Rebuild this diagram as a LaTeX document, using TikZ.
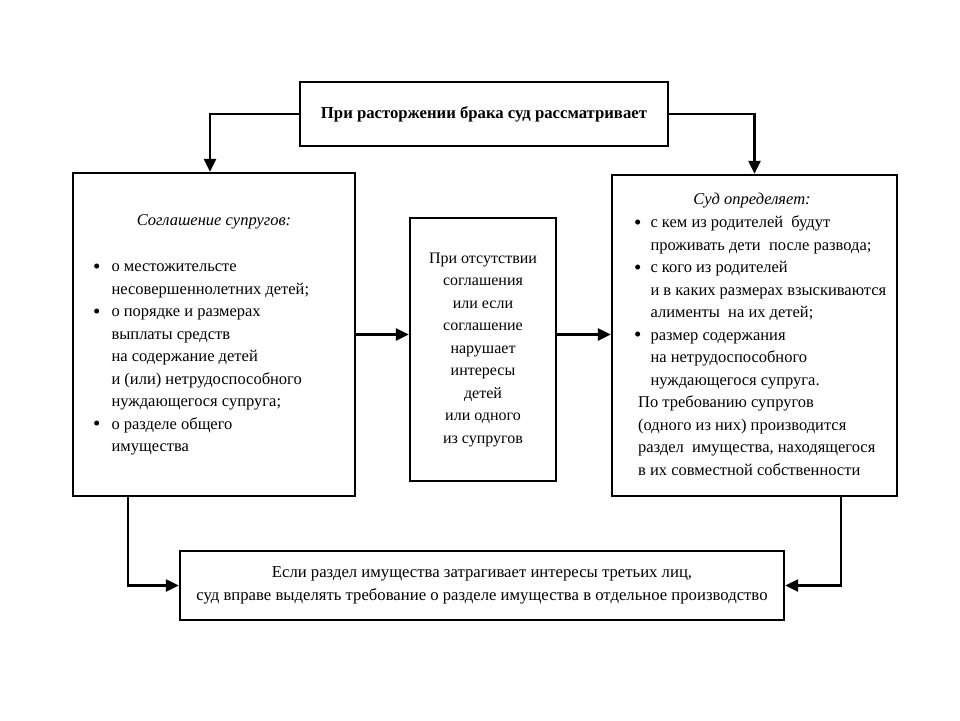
\documentclass[tikz,border=0pt]{standalone}
\usepackage{fontspec}
\setmainfont{Liberation Serif}
\usetikzlibrary{arrows.meta}
\newcommand\mybul{\raisebox{-1.5pt}{\fontsize{21}{21}\selectfont•}}
\begin{document}
\begin{tikzpicture}[x=1pt,y=-1pt,
  box/.style={draw,line width=2.4pt,inner sep=0pt,rectangle},
  txt/.style={inner sep=0pt,font=\fontsize{16.5}{22.5}\selectfont},
  conn/.style={line width=2.4pt,-{Triangle[length=13pt,width=12pt]}}]
\useasboundingbox[fill=white] (0,0) rectangle (960,720);
\node[box,minimum width=368pt,minimum height=64pt,font=\fontsize{16.7}{22.5}\selectfont\bfseries] (top) at (484,114) {При расторжении брака суд рассматривает};
\node[box,minimum width=282pt,minimum height=323pt] (lb) at (214,334.5) {};
\node[box,minimum width=146pt,minimum height=263pt,align=center,font=\fontsize{16}{22.5}\selectfont] (mb) at (483,349.5) {При отсутствии\\соглашения\\или если\\соглашение\\нарушает\\интересы\\детей\\или одного\\из супругов};
\node[box,minimum width=285pt,minimum height=321pt] (rb) at (754.5,335.5) {};
\node[box,minimum width=604pt,minimum height=69pt,align=center,font=\fontsize{16.7}{23}\selectfont] (bb) at (482,585.5) {Если раздел имущества затрагивает интересы третьих лиц,\\суд вправе выделять требование о разделе имущества в отдельное производство};
% left box text
\node[txt,font=\fontsize{16.5}{22.5}\selectfont\itshape] (lt) at (214,222) {Соглашение супругов:};
\node[txt,anchor=north west] (ll) at (93,256) {\begin{tabular}{@{}l@{\hspace{11pt}}l@{}}
\mybul&о местожительсте\\
&несовершеннолетних детей;\\
\mybul&о порядке и размерах\\
&выплаты средств\\
&на содержание детей\\
&и (или) нетрудоспособного\\
&нуждающегося супруга;\\
\mybul&о разделе общего\\
&имущества
\end{tabular}};
% right box text
\node[txt,font=\fontsize{16.5}{22.5}\selectfont\itshape] (rt) at (752,201) {Суд определяет:};
\node[txt,anchor=north west] (rl) at (634,212) {\begin{tabular}{@{}l@{\hspace{9pt}}l@{}}
\mybul&с кем из родителей\ \ будут\\
&проживать дети\ \ после развода;\\
\mybul&с кого из родителей\\
&и в каких размерах взыскиваются\\
&алименты\ \ на их детей;\\
\mybul&размер содержания\\
&на нетрудоспособного\\
&нуждающегося супруга.\\
\multicolumn{2}{@{}l@{}}{\hspace{4pt}По требованию супругов}\\
\multicolumn{2}{@{}l@{}}{\hspace{4pt}(одного из них) производится}\\
\multicolumn{2}{@{}l@{}}{\hspace{4pt}раздел\ \ имущества, находящегося}\\
\multicolumn{2}{@{}l@{}}{\hspace{4pt}в их совместной собственности}
\end{tabular}};
% connectors
\draw[conn] (top.west) -| ([xshift=-4pt]lb.north);
\draw[conn] (top.east) -| (rb.north);
\draw[conn] (lb.east) -- (lb.east -| mb.west);
\draw[conn] (mb.east |- lb.east) -- (rb.west |- lb.east);
\draw[conn] ([xshift=56pt]lb.south west) |- (bb.west);
\draw[conn] ([xshift=-57pt]rb.south east) |- (bb.east);
\end{tikzpicture}
\end{document}
